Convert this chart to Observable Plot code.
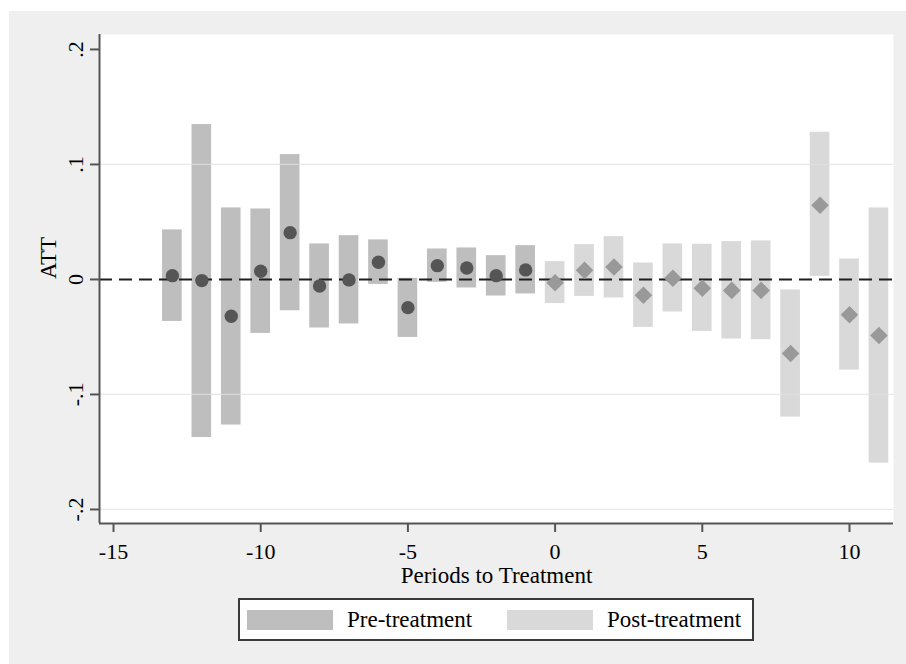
<!DOCTYPE html>
<html>
<head>
<meta charset="utf-8">
<script src="https://cdn.jsdelivr.net/npm/d3@7"></script>
<script src="https://cdn.jsdelivr.net/npm/@observablehq/plot@0.6"></script>
<style>
  body { margin: 0; background: #ffffff; }
  #panel { position: absolute; left: 9px; top: 11px; width: 897px; height: 653px; background: #efefef;
           font-family: "Liberation Serif", "Times New Roman", serif; }
  #chart { position: absolute; left: 0; top: 0; }
  #legend { position: absolute; left: 229px; top: 587px; width: 512px; height: 39px;
            border: 2px solid #3a3a3a; background: #ffffff; }
  .item { position: absolute; top: 0; height: 39px; display: flex; align-items: center; }
  .sw { width: 86px; height: 20px; margin-right: 14px; }
  .lab { font-size: 23px; color: #000; white-space: nowrap; }
</style>
</head>
<body>
<div id="panel"><div id="chart"></div><div id="legend"></div></div>
<script>
// ---- data ----
const prePeriods = [-13, -12, -11, -10, -9, -8, -7, -6, -5, -4, -3, -2, -1];
const preATT  = [0.0033, -0.0010, -0.0320, 0.0071, 0.0407, -0.0057, -0.0004, 0.0149, -0.0245, 0.0120, 0.0100, 0.0033, 0.0083];
const preLow  = [-0.0365, -0.1374, -0.1266, -0.0469, -0.0272, -0.0422, -0.0387, -0.0043, -0.0504, -0.0025, -0.0074, -0.0144, -0.0126];
const preHigh = [0.0431, 0.1347, 0.0622, 0.0613, 0.1086, 0.0309, 0.0381, 0.0344, 0.0010, 0.0265, 0.0274, 0.0207, 0.0294];

const postPeriods = [0, 1, 2, 3, 4, 5, 6, 7, 8, 9, 10, 11];
const postATT  = [-0.0028, 0.0079, 0.0109, -0.0138, 0.0010, -0.0077, -0.0095, -0.0095, -0.0643, 0.0645, -0.0306, -0.0487];
const postLow  = [-0.0210, -0.0147, -0.0161, -0.0417, -0.0283, -0.0452, -0.0518, -0.0524, -0.1197, 0.0027, -0.0788, -0.1597];
const postHigh = [0.0155, 0.0303, 0.0372, 0.0143, 0.0309, 0.0306, 0.0329, 0.0335, -0.0091, 0.1280, 0.0178, 0.0622];

const xTicks = [-15, -10, -5, 0, 5, 10];
const xTickLabels = ["-15", "-10", "-5", "0", "5", "10"];
const yTicks = [-0.2, -0.1, 0, 0.1, 0.2];
const yTickLabels = ["-.2", "-.1", "0", ".1", ".2"];
const gridValues = [-0.2, -0.1, 0.1];
const xDomain = [-15.476, 11.495];
const yDomain = [-0.2122, 0.213];
const xTitle = "Periods to Treatment";
const yTitle = "ATT";
const seriesNames = ["Pre-treatment", "Post-treatment"];
const barColors = ["#bebebe", "#d9d9d9"];
const pointColors = ["#555555", "#999999"];
const barHalf = 1 / 3;

// ---- build ----
const pre = prePeriods.map((t, i) => ({t, att: preATT[i], lo: preLow[i], hi: preHigh[i]}));
const post = postPeriods.map((t, i) => ({t, att: postATT[i], lo: postLow[i], hi: postHigh[i]}));
const xFmt = new Map(xTicks.map((v, i) => [v, xTickLabels[i]]));
const yFmt = new Map(yTicks.map((v, i) => [v, yTickLabels[i]]));

const chart = Plot.plot({
  width: 897,
  height: 580,
  marginLeft: 90,
  marginRight: 13,
  marginTop: 23,
  marginBottom: 68,
  style: {background: "transparent", fontFamily: "'Liberation Serif', 'Times New Roman', serif", fontSize: "22px", color: "#000"},
  x: {domain: xDomain},
  y: {domain: yDomain},
  marks: [
    Plot.frame({fill: "#ffffff", stroke: "none"}),
    Plot.rect(pre, {x1: d => d.t - barHalf, x2: d => d.t + barHalf, y1: "lo", y2: "hi", fill: barColors[0]}),
    Plot.rect(post, {x1: d => d.t - barHalf, x2: d => d.t + barHalf, y1: "lo", y2: "hi", fill: barColors[1]}),
    Plot.ruleY(gridValues, {stroke: "#e0e0e0", strokeOpacity: 0.75, strokeWidth: 1.3}),
    Plot.ruleY([0], {stroke: "#1e1e1e", strokeWidth: 2, strokeDasharray: "13,7"}),
    Plot.dot(pre, {x: "t", y: "att", r: 6.7, fill: pointColors[0], symbol: "circle"}),
    Plot.dot(post, {x: "t", y: "att", r: 7.9, fill: pointColors[1], symbol: "diamond2"}),
    Plot.ruleX([xDomain[0]], {stroke: "#555555", strokeWidth: 2}),
    Plot.ruleY([yDomain[0]], {stroke: "#555555", strokeWidth: 2}),
    Plot.axisY(yTicks, {tickRotate: -90, tickSize: 9, tickPadding: 8, tickFormat: d => yFmt.get(d),
      stroke: "#555555", strokeWidth: 2, label: null}),
    Plot.axisX(xTicks, {tickSize: 9, tickPadding: 11, tickFormat: d => xFmt.get(d),
      stroke: "#555555", strokeWidth: 2, label: null}),
    Plot.text([xTitle], {frameAnchor: "bottom", dy: 59, lineAnchor: "bottom", text: d => d, fill: "#000", fontSize: 23}),
    Plot.text([yTitle], {frameAnchor: "left", dx: -44, rotate: -90, lineAnchor: "bottom", text: d => d, fill: "#000", fontSize: 23})
  ]
});
document.getElementById("chart").appendChild(chart);

// ---- legend ----
const legend = document.getElementById("legend");
seriesNames.forEach((name, i) => {
  const item = document.createElement("div");
  item.className = "item";
  item.style.left = (7 + i * 260) + "px";
  const sw = document.createElement("div");
  sw.className = "sw";
  sw.style.background = barColors[i];
  const lab = document.createElement("span");
  lab.className = "lab";
  lab.textContent = name;
  item.appendChild(sw);
  item.appendChild(lab);
  legend.appendChild(item);
});
</script>
</body>
</html>
